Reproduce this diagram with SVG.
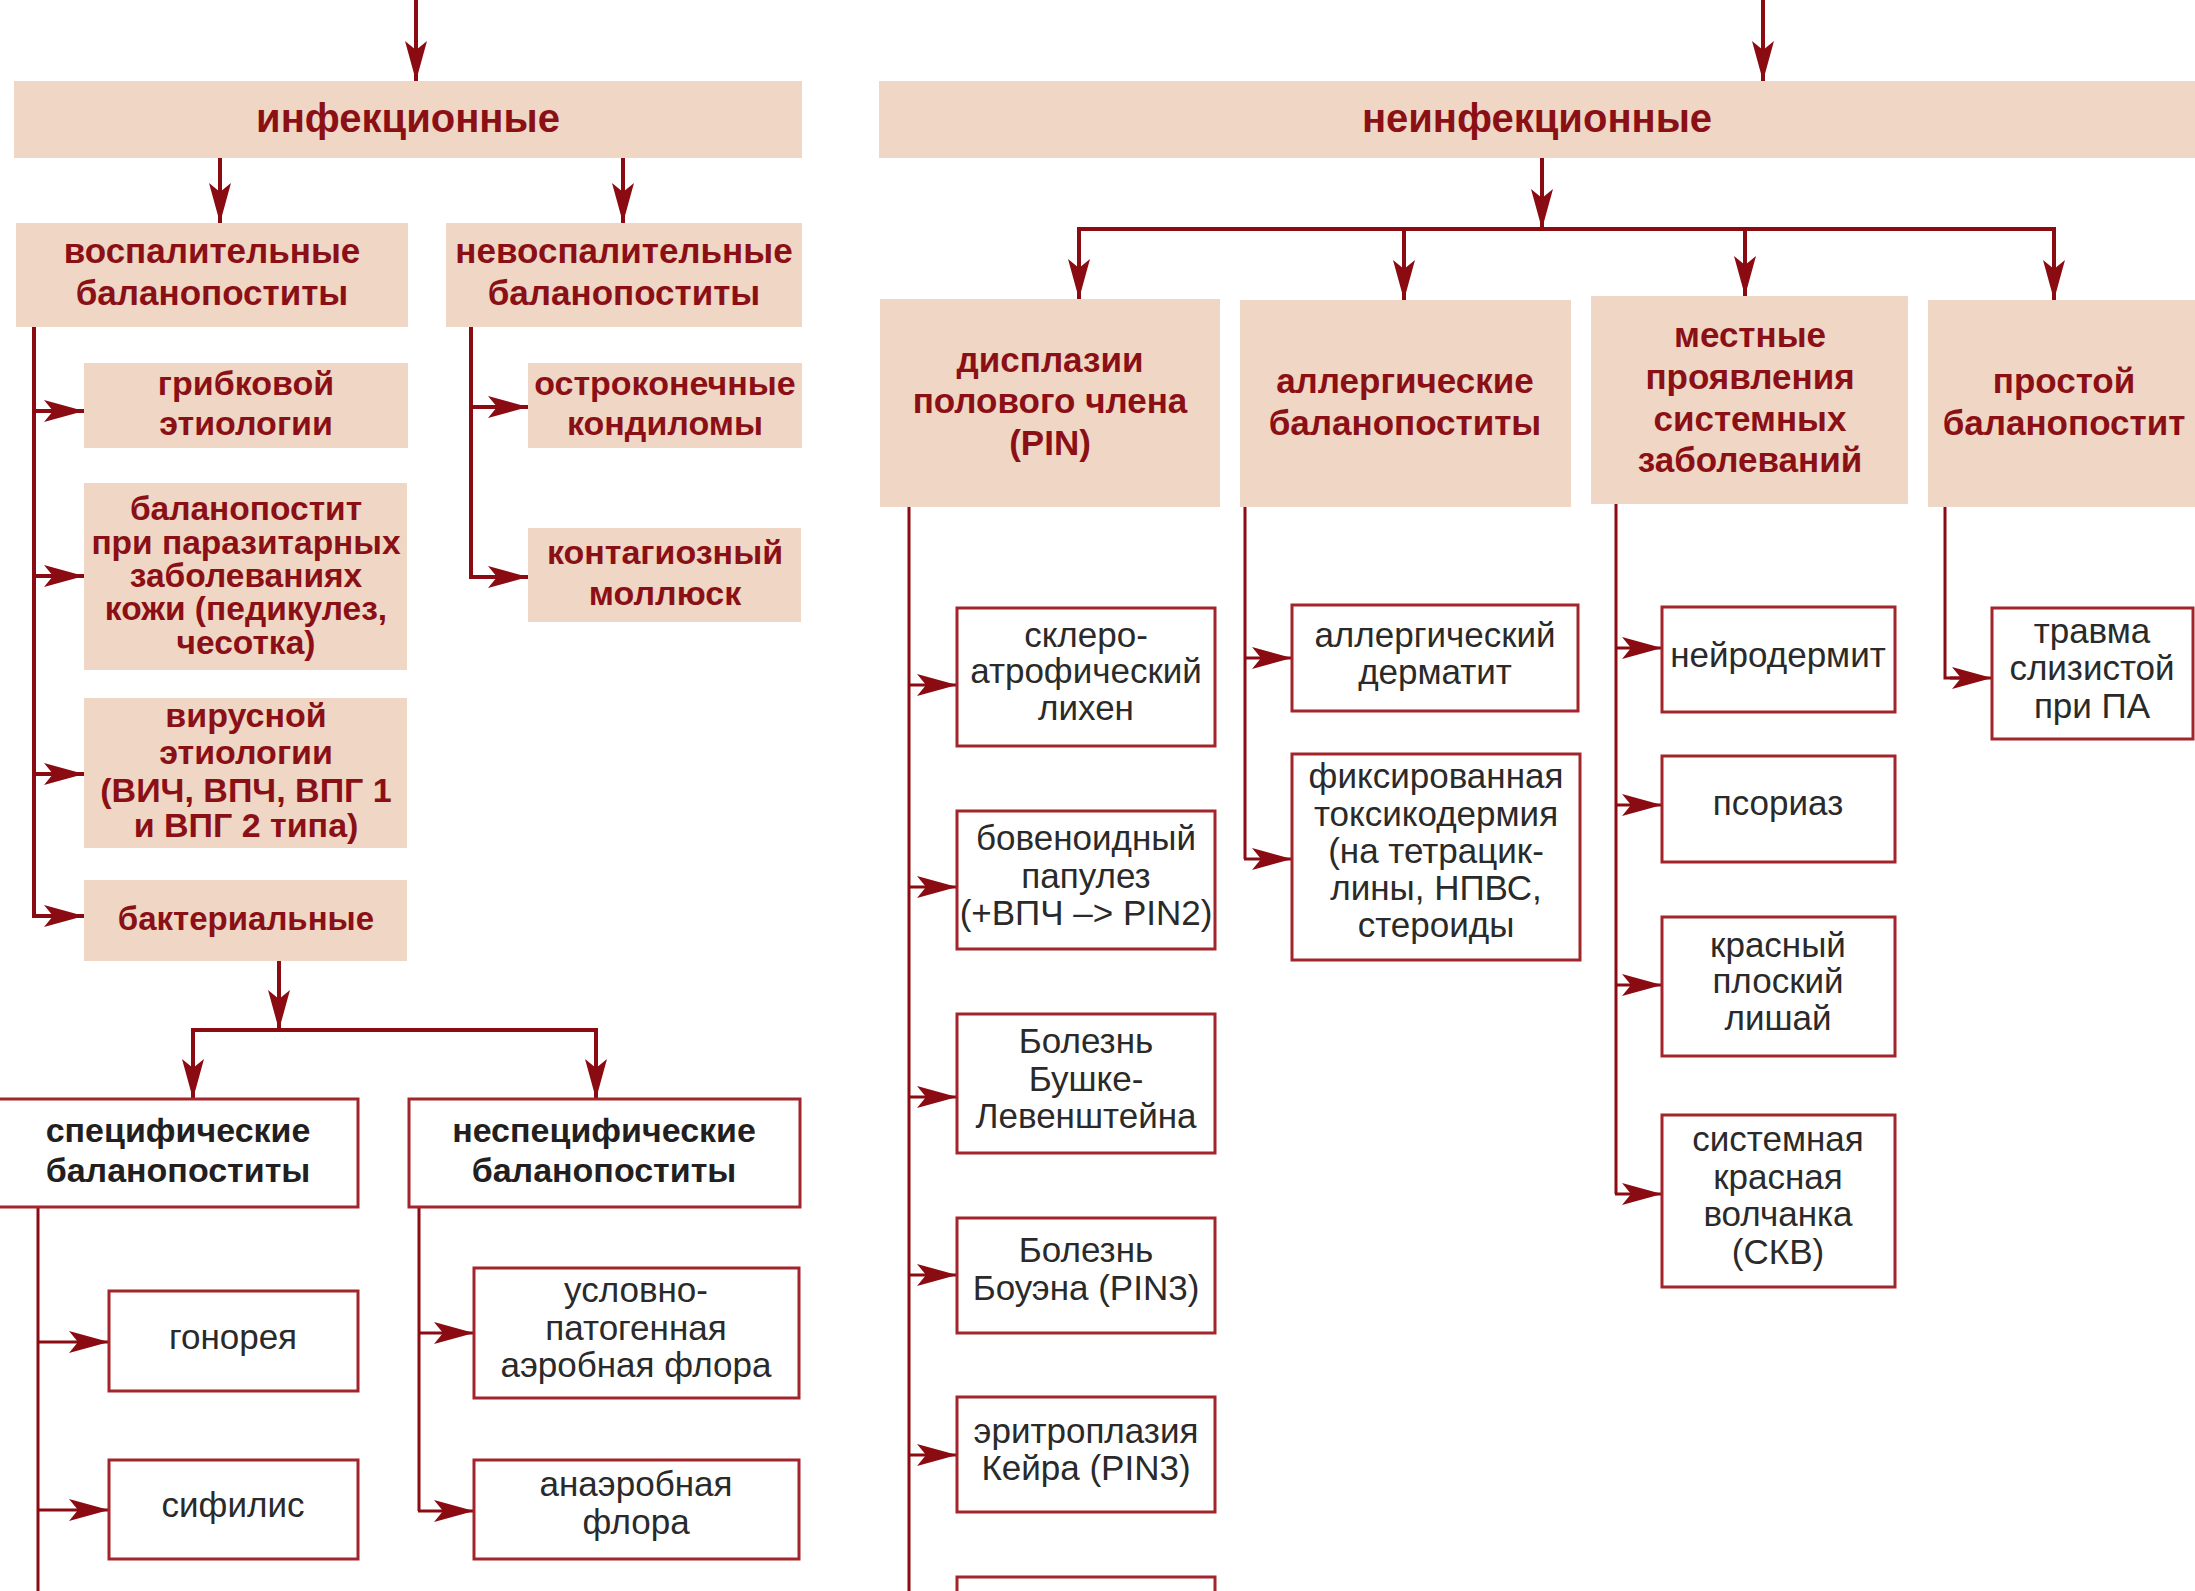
<svg xmlns="http://www.w3.org/2000/svg" width="2195" height="1591" viewBox="0 0 2195 1591">
<style>
.pe{fill:#efd6c5}
.wb{fill:#fff;stroke:#a3252c;stroke-width:3}
text{font-family:"Liberation Sans",Arial,Helvetica,sans-serif;text-anchor:middle}
.h1{font-weight:bold;font-size:40px;fill:#8b1016}
.h2{font-weight:bold;font-size:35px;fill:#8b1016}
.h3{font-weight:bold;font-size:34px;fill:#8b1016}
.hp{font-weight:bold;font-size:33.5px;fill:#8b1016}
.hk{font-weight:bold;font-size:34px;fill:#231f20}
.rg{font-size:35px;fill:#2a2a2a}
.ck{fill:none;stroke:#8b0b12;stroke-width:4}
.cn{fill:none;stroke:#8b0b12;stroke-width:3}
</style>
<defs>
<marker id="ar" markerUnits="userSpaceOnUse" viewBox="0 0 40 22" refX="40" refY="11" markerWidth="40" markerHeight="22" orient="auto">
<path d="M0,0 L40,11 L0,22 L9,11 Z" fill="#8b0b12"/>
</marker>
</defs>
<rect width="2195" height="1591" fill="#fff"/>

<g id="connectors">
<path class="ck" d="M416,0 V81" marker-end="url(#ar)"/>
<path class="ck" d="M1763,0 V81" marker-end="url(#ar)"/>
<path class="ck" d="M220,158 V223" marker-end="url(#ar)"/>
<path class="ck" d="M623,158 V223" marker-end="url(#ar)"/>
<path class="ck" d="M34,327 V916"/>
<path class="ck" d="M34,411 H84" marker-end="url(#ar)"/>
<path class="ck" d="M34,576 H84" marker-end="url(#ar)"/>
<path class="ck" d="M34,774 H84" marker-end="url(#ar)"/>
<path class="ck" d="M32,916 H84" marker-end="url(#ar)"/>
<path class="ck" d="M471,327 V577"/>
<path class="ck" d="M471,407 H528" marker-end="url(#ar)"/>
<path class="ck" d="M469,577 H528" marker-end="url(#ar)"/>
<path class="ck" d="M279,961 V1030" marker-end="url(#ar)"/>
<path class="ck" d="M193,1099 V1030 H596 V1099" />
<path class="ck" d="M193,1040 V1099" marker-end="url(#ar)"/>
<path class="ck" d="M596,1040 V1099" marker-end="url(#ar)"/>
<path class="ck" d="M1542,158 V229" marker-end="url(#ar)"/>
<path class="ck" d="M1079,240 V229 H2054 V240"/>
<path class="ck" d="M1079,240 V299" marker-end="url(#ar)"/>
<path class="ck" d="M1404,229 V300" marker-end="url(#ar)"/>
<path class="ck" d="M1745,229 V296" marker-end="url(#ar)"/>
<path class="ck" d="M2054,240 V300" marker-end="url(#ar)"/>

<path class="cn" d="M38,1207 V1591"/>
<path class="cn" d="M38,1342 H109" marker-end="url(#ar)"/>
<path class="cn" d="M38,1510 H109" marker-end="url(#ar)"/>
<path class="cn" d="M419,1207 V1511"/>
<path class="cn" d="M419,1333 H474" marker-end="url(#ar)"/>
<path class="cn" d="M418,1511 H474" marker-end="url(#ar)"/>
<path class="cn" d="M909,507 V1591"/>
<path class="cn" d="M909,685 H957" marker-end="url(#ar)"/>
<path class="cn" d="M909,887 H957" marker-end="url(#ar)"/>
<path class="cn" d="M909,1097 H957" marker-end="url(#ar)"/>
<path class="cn" d="M909,1275 H957" marker-end="url(#ar)"/>
<path class="cn" d="M909,1455 H957" marker-end="url(#ar)"/>
<path class="cn" d="M1245,507 V859"/>
<path class="cn" d="M1245,658 H1292" marker-end="url(#ar)"/>
<path class="cn" d="M1244,859 H1292" marker-end="url(#ar)"/>
<path class="cn" d="M1616,504 V1194"/>
<path class="cn" d="M1616,648 H1662" marker-end="url(#ar)"/>
<path class="cn" d="M1616,805 H1662" marker-end="url(#ar)"/>
<path class="cn" d="M1616,985 H1662" marker-end="url(#ar)"/>
<path class="cn" d="M1615,1194 H1662" marker-end="url(#ar)"/>
<path class="cn" d="M1945,507 V678 H1960"/>
<path class="cn" d="M1950,678 H1992" marker-end="url(#ar)"/>
</g>

<g id="n-inf"><rect class="pe" x="14" y="81" width="788" height="77"/><text class="h1" x="408" y="132">инфекционные</text></g>
<g id="n-noninf"><rect class="pe" x="879" y="81" width="1316" height="77"/><text class="h1" x="1537" y="132">неинфекционные</text></g>

<g id="n-vospal"><rect class="pe" x="16" y="223" width="392" height="104"/><text class="h2" x="212" y="263">воспалительные</text><text class="h2" x="212" y="305">баланопоститы</text></g>
<g id="n-nevospal"><rect class="pe" x="446" y="223" width="356" height="104"/><text class="h2" x="624" y="263">невоспалительные</text><text class="h2" x="624" y="305">баланопоститы</text></g>

<g id="n-grib"><rect class="pe" x="84" y="363" width="324" height="85"/><text class="h3" x="246" y="395">грибковой</text><text class="h3" x="246" y="435">этиологии</text></g>
<g id="n-paraz"><rect class="pe" x="84" y="483" width="323" height="187"/>
<text class="hp" x="246" y="520">баланопостит</text>
<text class="hp" x="246" y="554">при паразитарных</text>
<text class="hp" x="246" y="587">заболеваниях</text>
<text class="hp" x="246" y="620">кожи (педикулез,</text>
<text class="hp" x="246" y="654">чесотка)</text></g>
<g id="n-virus"><rect class="pe" x="84" y="698" width="323" height="150"/>
<text class="h3" x="246" y="727">вирусной</text>
<text class="h3" x="246" y="764">этиологии</text>
<text class="h3" x="246" y="802">(ВИЧ, ВПЧ, ВПГ 1</text>
<text class="h3" x="246" y="837">и ВПГ 2 типа)</text></g>
<g id="n-bakt"><rect class="pe" x="84" y="880" width="323" height="81"/><text class="h3" x="246" y="930" style="font-size:33px">бактериальные</text></g>

<g id="n-ostro"><rect class="pe" x="528" y="363" width="274" height="85"/><text class="h3" x="665" y="395">остроконечные</text><text class="h3" x="665" y="435">кондиломы</text></g>
<g id="n-kontag"><rect class="pe" x="528" y="528" width="273" height="94"/><text class="h3" x="665" y="564">контагиозный</text><text class="h3" x="665" y="605">моллюск</text></g>

<g id="n-spec"><rect class="wb" x="-3" y="1099" width="361" height="108"/><text class="hk" x="178" y="1142">специфические</text><text class="hk" x="178" y="1182">баланопоститы</text></g>
<g id="n-nonspec"><rect class="wb" x="409" y="1099" width="391" height="108"/><text class="hk" x="604" y="1142">неспецифические</text><text class="hk" x="604" y="1182">баланопоститы</text></g>
<g id="n-gonor"><rect class="wb" x="109" y="1291" width="249" height="100"/><text class="rg" x="233" y="1349">гонорея</text></g>
<g id="n-sifil"><rect class="wb" x="109" y="1460" width="249" height="99"/><text class="rg" x="233" y="1517">сифилис</text></g>
<g id="n-uslov"><rect class="wb" x="474" y="1268" width="325" height="130"/><text class="rg" x="636" y="1302">условно-</text><text class="rg" x="636" y="1340">патогенная</text><text class="rg" x="636" y="1377">аэробная флора</text></g>
<g id="n-anaer"><rect class="wb" x="474" y="1460" width="325" height="99"/><text class="rg" x="636" y="1496">анаэробная</text><text class="rg" x="636" y="1534">флора</text></g>

<g id="n-dysp"><rect class="pe" x="880" y="299" width="340" height="208"/><text class="h2" x="1050" y="372">дисплазии</text><text class="h2" x="1050" y="413">полового члена</text><text class="h2" x="1050" y="455">(PIN)</text></g>
<g id="n-allerg"><rect class="pe" x="1240" y="300" width="331" height="207"/><text class="h2" x="1405" y="393">аллергические</text><text class="h2" x="1405" y="435">баланопоститы</text></g>
<g id="n-local"><rect class="pe" x="1591" y="296" width="317" height="208"/><text class="h2" x="1750" y="347">местные</text><text class="h2" x="1750" y="389">проявления</text><text class="h2" x="1750" y="431">системных</text><text class="h2" x="1750" y="472">заболеваний</text></g>
<g id="n-prost"><rect class="pe" x="1928" y="300" width="267" height="207"/><text class="h2" x="2064" y="393">простой</text><text class="h2" x="2064" y="435">баланопостит</text></g>

<g id="n-sklero"><rect class="wb" x="957" y="608" width="258" height="138"/><text class="rg" x="1086" y="647">склеро-</text><text class="rg" x="1086" y="683">атрофический</text><text class="rg" x="1086" y="720">лихен</text></g>
<g id="n-boven"><rect class="wb" x="957" y="811" width="258" height="138"/><text class="rg" x="1086" y="850">бовеноидный</text><text class="rg" x="1086" y="888">папулез</text><text class="rg" x="1086" y="925">(+ВПЧ –&gt; PIN2)</text></g>
<g id="n-bushke"><rect class="wb" x="957" y="1014" width="258" height="139"/><text class="rg" x="1086" y="1053">Болезнь</text><text class="rg" x="1086" y="1091">Бушке-</text><text class="rg" x="1086" y="1128">Левенштейна</text></g>
<g id="n-bouen"><rect class="wb" x="957" y="1218" width="258" height="115"/><text class="rg" x="1086" y="1262">Болезнь</text><text class="rg" x="1086" y="1300">Боуэна (PIN3)</text></g>
<g id="n-kejr"><rect class="wb" x="957" y="1397" width="258" height="115"/><text class="rg" x="1086" y="1443">эритроплазия</text><text class="rg" x="1086" y="1480">Кейра (PIN3)</text></g>
<g id="n-next"><rect class="wb" x="957" y="1577" width="258" height="40"/></g>

<g id="n-alderm"><rect class="wb" x="1292" y="605" width="286" height="106"/><text class="rg" x="1435" y="647">аллергический</text><text class="rg" x="1435" y="684">дерматит</text></g>
<g id="n-fix"><rect class="wb" x="1292" y="754" width="288" height="206"/><text class="rg" x="1436" y="788">фиксированная</text><text class="rg" x="1436" y="826">токсикодермия</text><text class="rg" x="1436" y="863">(на тетрацик-</text><text class="rg" x="1436" y="900">лины, НПВС,</text><text class="rg" x="1436" y="937">стероиды</text></g>

<g id="n-neiro"><rect class="wb" x="1662" y="607" width="233" height="105"/><text class="rg" x="1778" y="667">нейродермит</text></g>
<g id="n-psor"><rect class="wb" x="1662" y="756" width="233" height="106"/><text class="rg" x="1778" y="815">псориаз</text></g>
<g id="n-krasn"><rect class="wb" x="1662" y="917" width="233" height="139"/><text class="rg" x="1778" y="957">красный</text><text class="rg" x="1778" y="993">плоский</text><text class="rg" x="1778" y="1030">лишай</text></g>
<g id="n-skv"><rect class="wb" x="1662" y="1115" width="233" height="172"/><text class="rg" x="1778" y="1151">системная</text><text class="rg" x="1778" y="1189">красная</text><text class="rg" x="1778" y="1226">волчанка</text><text class="rg" x="1778" y="1264">(СКВ)</text></g>

<g id="n-travma"><rect class="wb" x="1992" y="608" width="201" height="131"/><text class="rg" x="2092" y="643">травма</text><text class="rg" x="2092" y="680">слизистой</text><text class="rg" x="2092" y="718">при ПА</text></g>
</svg>
